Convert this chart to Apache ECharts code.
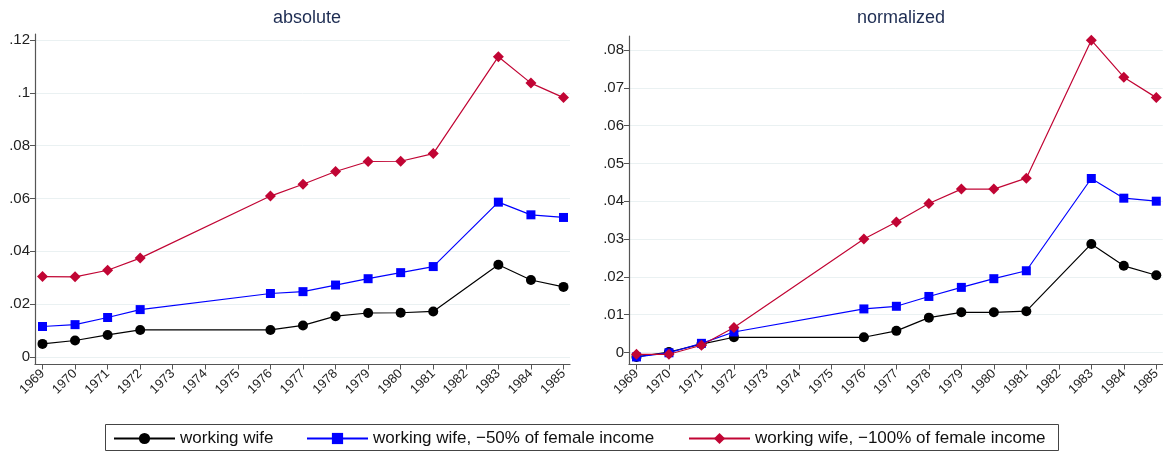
<!DOCTYPE html>
<html>
<head>
<meta charset="utf-8">
<script src="https://cdn.jsdelivr.net/npm/echarts@6/dist/echarts.min.js"></script>
<style>
  html, body { margin: 0; padding: 0; background: #fff; }
  #chart { width: 1163px; height: 452px; }
</style>
</head>
<body>
<div id="chart"></div>
<script>
// years that have data (1973-75 and 1982 are missing)
var years = [1969, 1970, 1971, 1972, 1976, 1977, 1978, 1979, 1980, 1981, 1983, 1984, 1985];
var yearTicks = [1969, 1970, 1971, 1972, 1973, 1974, 1975, 1976, 1977, 1978, 1979, 1980, 1981, 1982, 1983, 1984, 1985];

// absolute
var absWife = [0.0049, 0.0062, 0.0083, 0.0102, 0.0102, 0.0119, 0.0154, 0.0166, 0.0167, 0.0172, 0.0349, 0.0291, 0.0265];
var absWife50 = [0.0115, 0.0122, 0.0149, 0.0179, 0.0240, 0.0247, 0.0272, 0.0296, 0.0319, 0.0342, 0.0586, 0.0538, 0.0528];
var absWife100 = [0.0304, 0.0303, 0.0328, 0.0374, 0.0609, 0.0654, 0.0702, 0.0740, 0.0741, 0.0770, 0.1137, 0.1037, 0.0982];
var absTicks = [0, 0.02, 0.04, 0.06, 0.08, 0.1, 0.12];

// normalized
var normWife = [-0.0012, 0.0001, 0.0022, 0.0040, 0.0040, 0.0057, 0.0092, 0.0106, 0.0106, 0.0109, 0.0287, 0.0229, 0.0204];
var normWife50 = [-0.0012, -0.0001, 0.0024, 0.0054, 0.0115, 0.0122, 0.0148, 0.0172, 0.0195, 0.0216, 0.0460, 0.0408, 0.0400];
var normWife100 = [-0.0005, -0.0005, 0.0019, 0.0066, 0.0300, 0.0345, 0.0394, 0.0432, 0.0432, 0.0461, 0.0826, 0.0728, 0.0674];
var normTicks = [0, 0.01, 0.02, 0.03, 0.04, 0.05, 0.06, 0.07, 0.08];

var names = ['working wife', 'working wife, \u221250% of female income', 'working wife, \u2212100% of female income'];
var colors = ['#000000', '#0000ff', '#c10534'];
var symbols = ['circle', 'rect', 'diamond'];
var symSizes = [10, 9, 11];

function pairs(vals) {
    return years.map(function (y, i) { return [y, vals[i]]; });
}

function fmtY(v) {
    if (v === 0) return '0';
    return String(+v.toFixed(4)).replace(/^0/, '');
}

var font = 'Liberation Sans, Arial, sans-serif';
var axisColor = '#555';

function xAxisFor(idx) {
    return {
        type: 'value', gridIndex: idx, min: 1968.77, max: 1985.2,
        axisLine: { show: true, onZero: false, lineStyle: { color: axisColor, width: 1.2 } },
        axisTick: { show: true, length: 5, customValues: yearTicks, lineStyle: { color: axisColor } },
        axisLabel: {
            customValues: yearTicks, rotate: 45, fontSize: 13, color: '#222', fontFamily: font, margin: 7,
            formatter: function (v) { return String(Math.round(v)); }
        },
        splitLine: { show: false }
    };
}
function yAxisFor(idx, min, max, ticks) {
    return {
        type: 'value', gridIndex: idx, min: min, max: max,
        axisLine: { show: true, lineStyle: { color: axisColor, width: 1.2 } },
        axisTick: { show: true, length: 5, customValues: ticks, lineStyle: { color: axisColor } },
        axisLabel: { customValues: ticks, fontSize: 15, color: '#222', fontFamily: font, margin: 5, formatter: fmtY },
        splitLine: { show: true, lineStyle: { color: '#eaf1f2', width: 1 } }
    };
}

var series = [];
var panels = [[absWife, absWife50, absWife100], [normWife, normWife50, normWife100]];
panels.forEach(function (set, p) {
    set.forEach(function (vals, k) {
        series.push({
            name: names[k], type: 'line', xAxisIndex: p, yAxisIndex: p,
            data: pairs(vals),
            symbol: symbols[k], symbolSize: symSizes[k], showAllSymbol: true,
            lineStyle: { color: colors[k], width: 1.2 },
            itemStyle: { color: colors[k] },
            animation: false, z: 2 + k
        });
    });
});

var legendLefts = [113, 306, 688];
var legends = names.map(function (n, k) {
    return {
        data: [n], left: legendLefts[k], top: 430, padding: 0,
        itemWidth: 61, itemHeight: 14, itemGap: 8,
        textStyle: { fontSize: 17, color: '#111', fontFamily: font },
        selectedMode: false
    };
});

var titleStyle = { fontSize: 18, fontWeight: 'normal', color: '#1e2d53', fontFamily: font };
var chart = echarts.init(document.getElementById('chart'));
chart.setOption({
    backgroundColor: '#fff',
    animation: false,
    title: [
        { text: 'absolute', left: 302, top: 4, textAlign: 'center', textStyle: titleStyle },
        { text: 'normalized', left: 896, top: 4, textAlign: 'center', textStyle: titleStyle }
    ],
    grid: [
        { left: 35, top: 34, width: 535, height: 330.5 },
        { left: 629, top: 36, width: 534, height: 328.5 }
    ],
    xAxis: [xAxisFor(0), xAxisFor(1)],
    yAxis: [yAxisFor(0, -0.0029, 0.1223, absTicks), yAxisFor(1, -0.0032, 0.0837, normTicks)],
    legend: legends,
    graphic: [{
        type: 'rect', shape: { x: 105.5, y: 424.5, width: 953, height: 26 },
        style: { fill: 'none', stroke: '#444', lineWidth: 1 }, silent: true
    }],
    series: series
});
</script>
</body>
</html>
